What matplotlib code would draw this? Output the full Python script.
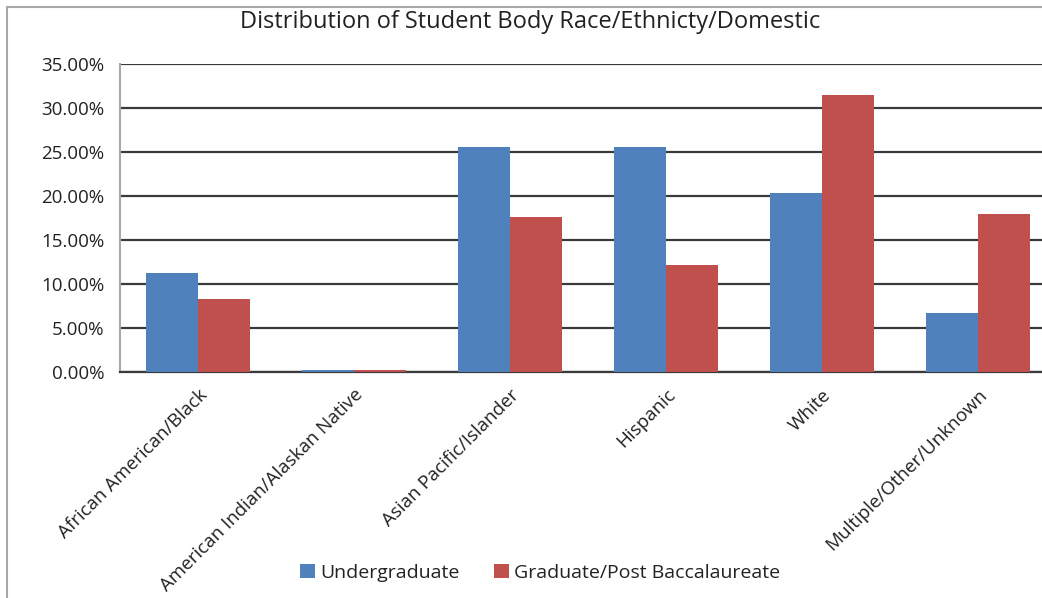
import matplotlib
matplotlib.use("Agg")
import matplotlib.pyplot as plt
import numpy as np
from matplotlib.lines import Line2D
from matplotlib.ticker import FuncFormatter

categories = ["African American/Black", "American Indian/Alaskan Native",
              "Asian Pacific/Islander", "Hispanic", "White", "Multiple/Other/Unknown"]
undergrad = [11.3, 0.25, 25.6, 25.6, 20.3, 6.7]
graduate = [8.3, 0.25, 17.6, 12.2, 31.5, 18.0]
series_names = ["Undergraduate", "Graduate/Post Baccalaureate"]
colors = ["#4F81BD", "#C0504D"]
title = "Distribution of Student Body Race/Ethnicty/Domestic"

plt.rcParams['font.family'] = ['Open Sans', 'DejaVu Sans']

fig = plt.figure(figsize=(10.42, 5.98), dpi=100)
ax = fig.add_axes([120/1042, 1-372/598, 936/1042, 308/598])

x = np.arange(len(categories))
w = 1/3
ax.bar(x - w/2, undergrad, width=w, color=colors[0], label=series_names[0], zorder=3)
ax.bar(x + w/2, graduate, width=w, color=colors[1], label=series_names[1], zorder=3)

ax.set_xlim(-0.5, len(categories) - 0.5)
ax.set_ylim(0, 35)
ax.set_yticks(np.arange(0, 35.01, 5))
ax.yaxis.set_major_formatter(FuncFormatter(lambda v, p: f"{v:.2f}%"))
ax.tick_params(axis='y', length=0, pad=11, labelsize=13.5, colors='#222222')
ax.set_xticks(x)
ax.set_xticklabels(categories, rotation=45, ha='right', rotation_mode='anchor',
                   fontsize=13.5, color='#222222')
ax.tick_params(axis='x', length=0, pad=10)
ax.grid(axis='y', color='#3a3a3a', linewidth=1.6, zorder=0)
for s in ['top', 'right']:
    ax.spines[s].set_visible(False)
ax.spines['left'].set_color('#A8A8A8')
ax.spines['left'].set_linewidth(1.5)
ax.spines['bottom'].set_color('#3a3a3a')
ax.spines['bottom'].set_linewidth(1.6)

fig.text(530/1042, 1-22/598, title, ha='center', va='center', fontsize=17, color='#222222')

fig.legend(loc='center', bbox_to_anchor=(540/1042, 1-573/598), ncol=2, frameon=False,
           fontsize=14, handlelength=0.75, handleheight=0.75, handletextpad=0.25,
           columnspacing=1.8, labelcolor='#222222')

fig.add_artist(Line2D([7/1042, 7/1042], [0, 1-7/598], color='#A8A8A8', lw=1.5, transform=fig.transFigure))
fig.add_artist(Line2D([7/1042, 1], [1-7/598, 1-7/598], color='#A8A8A8', lw=1.5, transform=fig.transFigure))

fig.savefig("out.png", dpi=100)
